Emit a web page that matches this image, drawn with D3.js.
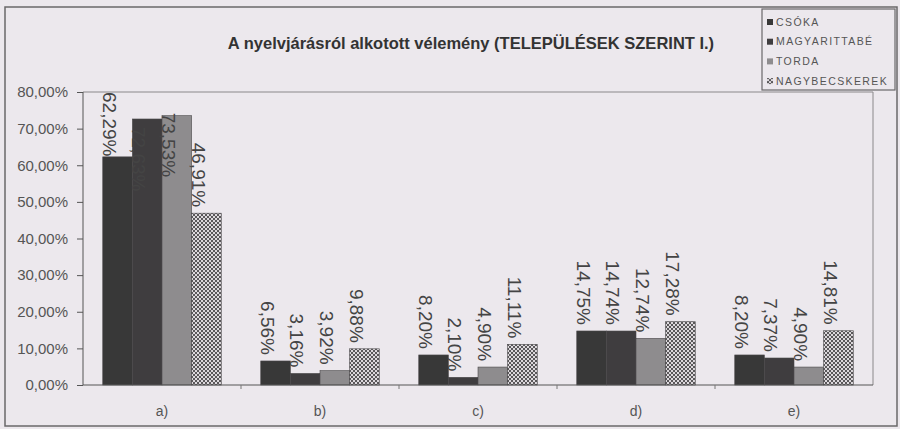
<!DOCTYPE html>
<html>
<head>
<meta charset="utf-8">
<script src="https://cdn.jsdelivr.net/npm/d3@7"></script>
<style>
  body { margin: 0; background: #ece8ed; }
  svg { display: block; font-family: Arial, "Liberation Sans", sans-serif; }
</style>
</head>
<body>
<div id="chart"></div>
<script>
/*
  Grouped bar chart - A nyelvjárásról alkotott vélemény
*/

var categories = ["a)", "b)", "c)", "d)", "e)"];
var seriesNames = ["CSÓKA", "MAGYARITTABÉ", "TORDA", "NAGYBECSKEREK"];
var csoka = [62.29, 6.56, 8.20, 14.75, 8.20];
var magyarittabe = [72.63, 3.16, 2.10, 14.74, 7.37];
var torda = [73.53, 3.92, 4.90, 12.74, 4.90];
var nagybecskerek = [46.91, 9.88, 11.11, 17.28, 14.81];
var yTicks = [0, 10, 20, 30, 40, 50, 60, 70, 80];

var W = 900, H = 429;
var margin = {top: 92, right: 27, bottom: 44, left: 83};
var width = W - margin.left - margin.right,
    height = H - margin.top - margin.bottom;

var seriesValues = [csoka, magyarittabe, torda, nagybecskerek];
var fills = ["#383838", "#3f3d3f", "#8e8c8e", "url(#dots)"];

var svg = d3.select("#chart").append("svg")
  .attr("width", W)
  .attr("height", H);

// dotted pattern for the last series
var pat = svg.append("defs").append("pattern")
  .attr("id", "dots")
  .attr("width", 4).attr("height", 4)
  .attr("patternUnits", "userSpaceOnUse");
pat.append("rect").attr("width", 4).attr("height", 4).attr("fill", "#dcd8dc");
pat.append("rect").attr("width", 2).attr("height", 2).attr("fill", "#5a585a");
pat.append("rect").attr("x", 2).attr("y", 2).attr("width", 2).attr("height", 2).attr("fill", "#5a585a");

// outer frame
svg.append("rect")
  .attr("x", 5).attr("y", 7)
  .attr("width", 892).attr("height", 419)
  .attr("fill", "none")
  .attr("stroke", "#6a686a")
  .attr("stroke-width", 1.5);

// title
svg.append("text")
  .attr("x", 471).attr("y", 49)
  .attr("text-anchor", "middle")
  .style("font-weight", "bold")
  .style("font-size", "16.5px")
  .attr("fill", "#333")
  .text("A nyelvjárásról alkotott vélemény (TELEPÜLÉSEK SZERINT I.)");

var g = svg.append("g")
  .attr("transform", "translate(" + margin.left + "," + margin.top + ")");

var x0 = d3.scaleBand().domain(categories).range([0, width]).paddingInner(0.25).paddingOuter(0.125);
var x1 = d3.scaleBand().domain(seriesNames).range([0, x0.bandwidth()]);
var y = d3.scaleLinear().domain([0, 80]).range([height, 0]);

// plot border (top and right)
g.append("path")
  .attr("d", "M0,0H" + width + "V" + height)
  .attr("fill", "none")
  .attr("stroke", "#8a888a");

var rows = [];
categories.forEach(function(c, i){
  seriesNames.forEach(function(s, j){
    rows.push({cat: c, series: s, idx: j, value: seriesValues[j][i]});
  });
});

g.selectAll(".bar")
  .data(rows)
  .enter().append("rect")
  .attr("class", "bar")
  .attr("x", function(d){ return x0(d.cat) + x1(d.series); })
  .attr("y", function(d){ return y(d.value); })
  .attr("width", x1.bandwidth())
  .attr("height", function(d){ return height - y(d.value); })
  .attr("fill", function(d){ return fills[d.idx]; })
  .attr("stroke", "#4a484a")
  .attr("stroke-width", 0.6);

// value labels, rotated, reading downwards
var fmt = function(v){ return v.toFixed(2).replace(".", ",") + "%"; };
g.selectAll(".lbl")
  .data(rows)
  .enter().append("text")
  .attr("class", "lbl")
  .style("font-size", "19px")
  .attr("fill", "#444")
  .text(function(d){ return fmt(d.value); })
  .each(function(d){
    var len = this.getComputedTextLength();
    var bx = x0(d.cat) + x1(d.series);
    var end = y(d.value) - 6;
    var start = end - len;
    // labels that do not fit above the bar are pushed inside
    if (start < 0) start = (start < -30) ? y(d.value) - 3 : 0;
    if (d.idx === 1 && end - len < -30) start = y(d.value) + 8;
    d3.select(this).attr("transform", "translate(" + bx + "," + start + ") rotate(90)");
  });

// y axis
var yAxis = g.append("g")
  .call(d3.axisLeft(y).tickValues(yTicks).tickSize(6).tickPadding(9)
    .tickFormat(function(d){ return d.toFixed(2).replace(".", ",") + "%"; }));
yAxis.selectAll("text").style("font-size", "15px").attr("fill", "#555").style("font-family", "Arial, sans-serif");
yAxis.selectAll("line").attr("stroke", "#555");
yAxis.select(".domain").attr("stroke", "#555").attr("d", "M0,0V" + height);

// x axis
var xAxis = g.append("g")
  .attr("transform", "translate(0," + height + ")")
  .call(d3.axisBottom(x0).tickSize(0).tickPadding(21));
xAxis.selectAll("text").style("font-size", "14px").attr("fill", "#555").style("font-family", "Arial, sans-serif");
xAxis.select(".domain").attr("stroke", "#555").attr("d", "M0,0H" + width);
// small tick marks between categories
xAxis.selectAll(".sep")
  .data(categories.slice(1))
  .enter().append("line")
  .attr("class", "sep")
  .attr("x1", function(d){ return x0(d) - x0.step() * x0.paddingInner() / 2; })
  .attr("x2", function(d){ return x0(d) - x0.step() * x0.paddingInner() / 2; })
  .attr("y1", 0).attr("y2", 4)
  .attr("stroke", "#777");

// legend
var legend = svg.append("g").attr("transform", "translate(762,9)");
legend.append("rect")
  .attr("width", 133).attr("height", 81)
  .attr("fill", "#ece8ed")
  .attr("stroke", "#6a686a")
  .attr("stroke-width", 1.2);
var items = legend.selectAll(".item")
  .data(seriesNames)
  .enter().append("g")
  .attr("class", "item")
  .attr("transform", function(d, i){ return "translate(5," + (13 + i * 19.7) + ")"; });
items.append("rect")
  .attr("x", 0).attr("y", -3)
  .attr("width", 6).attr("height", 6)
  .attr("fill", function(d, i){ return fills[i]; });
items.append("text")
  .attr("x", 9).attr("dy", "0.35em")
  .style("font-size", "10.5px")
  .style("letter-spacing", "1.4px")
  .attr("fill", "#555")
  .text(function(d){ return d; });
</script>
</body>
</html>
